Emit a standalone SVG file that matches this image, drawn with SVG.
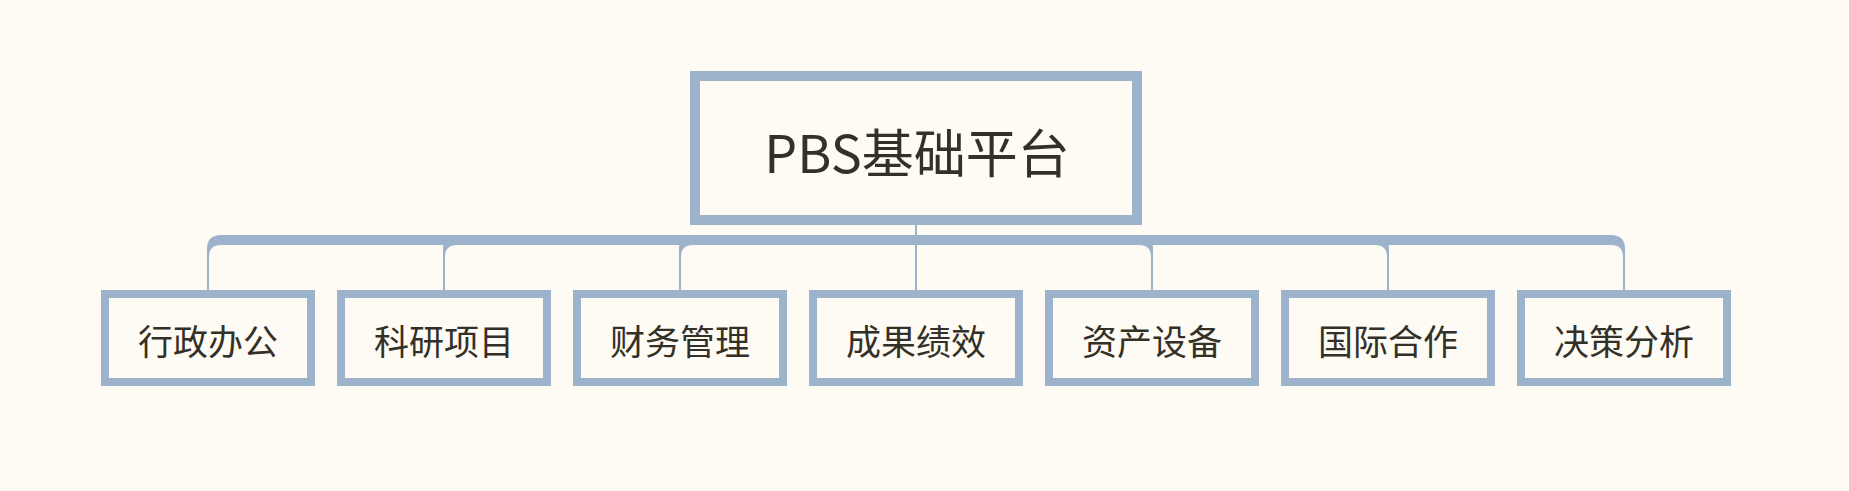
<svg xmlns="http://www.w3.org/2000/svg" width="1849" height="491" viewBox="0 0 1849 491">
<style>
.bg{fill:#fefbf4}
.root{fill:#fefbf4;stroke:#9db3cb;stroke-width:10}
.child{fill:#fefbf4;stroke:#9db3cb;stroke-width:8}
.conn{fill:#9db3cb;stroke:none}
text{font-family:"Noto Sans CJK SC","Noto Sans",sans-serif;fill:#333028;text-anchor:middle;dominant-baseline:central}
.rt{font-size:52px}
.ct{font-size:35px}
</style>
<rect class="bg" x="0" y="0" width="1849" height="491"/>
<g id="connectors">
<rect class="conn" x="915" y="225" width="2" height="65"/>
<path class="conn" d="M916,235 H221 Q207,235 207,249 V290 H209 V257 Q209,245 221,245 H916 Z"/>
<path class="conn" d="M916,235 H457 Q443,235 443,249 V290 H445 V257 Q445,245 457,245 H916 Z"/>
<path class="conn" d="M916,235 H693 Q679,235 679,249 V290 H681 V257 Q681,245 693,245 H916 Z"/>
<path class="conn" d="M916,235 H1139 Q1153,235 1153,249 V290 H1151 V257 Q1151,245 1139,245 H916 Z"/>
<path class="conn" d="M916,235 H1375 Q1389,235 1389,249 V290 H1387 V257 Q1387,245 1375,245 H916 Z"/>
<path class="conn" d="M916,235 H1611 Q1625,235 1625,249 V290 H1623 V257 Q1623,245 1611,245 H916 Z"/>
</g>
<g id="root">
<rect class="root" x="695" y="76" width="442" height="144"/>
<text class="rt" x="917" y="150">PBS基础平台</text>
</g>
<g id="node1">
<rect class="child" x="105" y="294" width="206" height="88"/>
<text class="ct" x="208" y="339">行政办公</text>
</g>
<g id="node2">
<rect class="child" x="341" y="294" width="206" height="88"/>
<text class="ct" x="444" y="339">科研项目</text>
</g>
<g id="node3">
<rect class="child" x="577" y="294" width="206" height="88"/>
<text class="ct" x="680" y="339">财务管理</text>
</g>
<g id="node4">
<rect class="child" x="813" y="294" width="206" height="88"/>
<text class="ct" x="916" y="339">成果绩效</text>
</g>
<g id="node5">
<rect class="child" x="1049" y="294" width="206" height="88"/>
<text class="ct" x="1152" y="339">资产设备</text>
</g>
<g id="node6">
<rect class="child" x="1285" y="294" width="206" height="88"/>
<text class="ct" x="1388" y="339">国际合作</text>
</g>
<g id="node7">
<rect class="child" x="1521" y="294" width="206" height="88"/>
<text class="ct" x="1624" y="339">决策分析</text>
</g>
</svg>
